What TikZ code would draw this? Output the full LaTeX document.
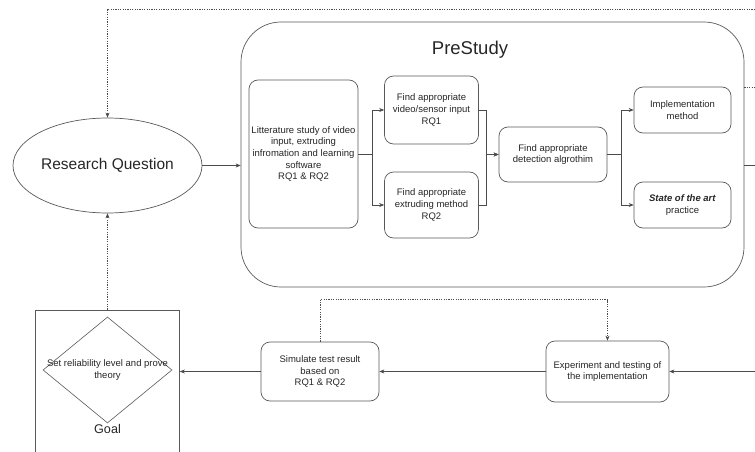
\documentclass[tikz,border=0pt]{standalone}
\usepackage{fontspec}
\setmainfont{Liberation Sans}
\usetikzlibrary{arrows.meta,positioning,shapes.geometric,calc}

\begin{document}
\begin{tikzpicture}[x=1pt, y=-1pt,
			every node/.style={font=\fontsize{9.5}{11.6}\selectfont, text=black!85, inner sep=0pt},
			stepbox/.style={draw=black!65, line width=0.7pt, rounded corners=9pt, align=center},
			bigbox/.style={draw=black!65, line width=0.7pt, rounded corners=40pt, minimum width=503, minimum height=265},
			arr/.style={draw=black!70, line width=0.6pt, -{Stealth[length=5pt,width=4pt]}},
			dotarr/.style={arr, dash pattern=on 1.2pt off 1.2pt},
			dotline/.style={draw=black!70, line width=0.6pt, dash pattern=on 1.2pt off 1.2pt}]
			\useasboundingbox (0,0) rectangle (755,452);
			\clip (0,0) rectangle (755,452);
			% left column
			\node[ellipse, draw=black!65, line width=0.7pt, minimum width=189, minimum height=95, font=\fontsize{15.5}{18}\selectfont] (rq) at (107.5,165.5) {Research Question};
			\node[draw=black!65, line width=0.7pt, minimum width=144, minimum height=150] (goal) at (107.5,385) {};
			\node[diamond, draw=black!65, line width=0.6pt, minimum width=129, minimum height=106] (dia) at (107.5,370) {};
			\node[align=center] (diatxt) at (dia.center) {Set reliability level and prove\\theory};
			\node[font=\fontsize{12.6}{14}\selectfont] (goallbl) at (107.5,429) {Goal};
			% PreStudy
			\node[bigbox] (pre) at (492.5,154.5) {};
			\node[font=\fontsize{18.5}{21}\selectfont] (title) at (470,50) {PreStudy};
			\node[stepbox, minimum width=109, minimum height=148] (lit) at (303.5,154) {Litterature study of video\\input, extruding\\infromation and learning\\software\\RQ1 \& RQ2};
			\node[stepbox, minimum width=94, minimum height=68] (vid) at (431.5,110) {Find appropriate\\video/sensor input\\RQ1};
			\node[stepbox, minimum width=94, minimum height=66] (ext) at (431.5,205) {Find appropriate\\extruding method\\RQ2};
			\node[stepbox, minimum width=108, minimum height=55] (det) at (553,154.5) {Find appropriate\\detection algrothim};
			\node[stepbox, minimum width=97, minimum height=46] (impl) at (682.5,110) {Implementation\\method};
			\node[stepbox, minimum width=97, minimum height=46] (sota) at (682.5,205) {\textbf{\textit{State of the art}}\\practice};
			% bottom row
			\node[stepbox, minimum width=123, minimum height=61] (exp) at (607.5,371.5) {Experiment and testing of\\the implementation};
			\node[stepbox, minimum width=118, minimum height=59] (sim) at (320,371.5) {Simulate test result\\based on\\RQ1 \& RQ2};
			% edge coordinates
			\coordinate (topR) at (755,9);
			\coordinate (outD) at (755,87);
			\coordinate (outR) at (755,165);
			\coordinate (inB) at (755,371.5);
			% connectors
			\draw[dotarr] (topR) -| (rq.north);
			\draw[dotarr] (goal.north) -- (rq.south);
			\draw[arr] (rq.east) -- (rq.east -| pre.west);
			\draw[arr] (lit.east) -- ++(14,0) |- (vid.west);
			\draw[arr] (lit.east) -- ++(14,0) |- (ext.west);
			\draw[arr] (vid.east) -- ++(7.5,0) |- (det.west);
			\draw[arr] (ext.east) -- ++(7.5,0) |- (det.west);
			\draw[arr] (det.east) -- ++(14,0) |- (impl.west);
			\draw[arr] (det.east) -- ++(14,0) |- (sota.west);
			\draw[dotline] (outD -| pre.east) -- (outD);
			\draw[draw=black!70, line width=0.6pt] (outR -| pre.east) -- (outR);
			\draw[arr] (inB) -- (exp.east);
			\draw[arr] (exp.west) -- (sim.east);
			\draw[arr] (sim.west) -- (sim.west -| goal.east);
			\draw[dotarr] (sim.north) -- ++(0,-42) -| (exp.north);
		\end{tikzpicture}
\end{document}
